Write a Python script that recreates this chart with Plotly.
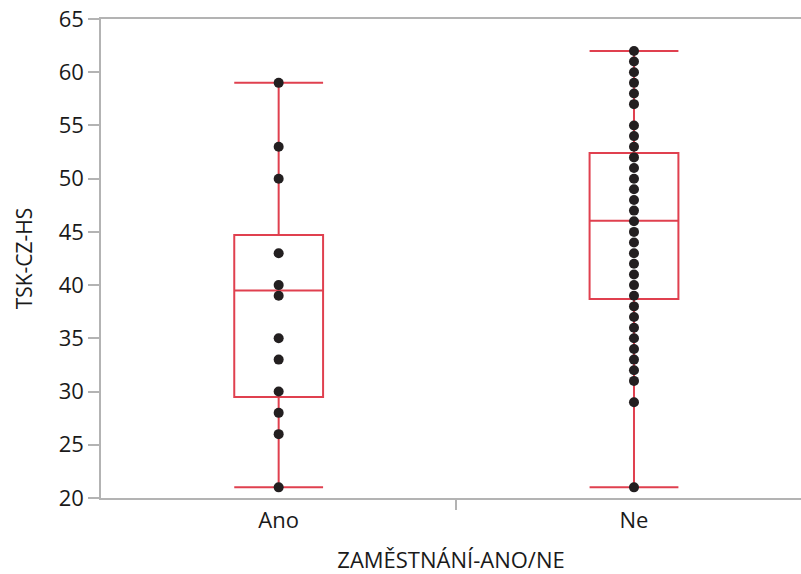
import plotly.graph_objects as go

categories = ["Ano", "Ne"]
positions = [0, 1]
q1 = [29.5, 38.7]
median = [39.5, 46.05]
q3 = [44.7, 52.4]
lower = [21, 21]
upper = [59, 62]
ano_points = [59, 53, 50, 43, 40, 39, 35, 33, 30, 28, 26, 21]
ne_points = [62, 61, 60, 59, 58, 57, 55, 54, 53, 52, 51, 50, 49, 48, 47, 46, 45,
             44, 43, 42, 41, 40, 39, 38, 37, 36, 35, 34, 33, 32, 31, 29, 21]
y_ticks = [20, 25, 30, 35, 40, 45, 50, 55, 60, 65]

RED = "#e0404f"
GRAY = "#b3b3b3"
DOT = "#231f20"
FONT = "Open Sans"
TXT = "#1a1a1a"

fig = go.Figure()
fig.add_trace(go.Box(
    x=positions, q1=q1, median=median, q3=q3,
    lowerfence=lower, upperfence=upper,
    width=0.25, whiskerwidth=1, boxpoints=False,
    fillcolor="rgba(0,0,0,0)", line=dict(color=RED, width=2),
    showlegend=False, hoverinfo="skip",
))
for pos, pts in zip(positions, [ano_points, ne_points]):
    fig.add_trace(go.Scatter(
        x=[pos] * len(pts), y=pts, mode="markers",
        marker=dict(color=DOT, size=10),
        showlegend=False,
    ))

fig.update_layout(
    width=801, height=574,
    margin=dict(l=101, r=0, t=19, b=76),
    plot_bgcolor="white", paper_bgcolor="white",
    font=dict(family=FONT, size=22, color=TXT),
    xaxis=dict(
        range=[-0.5, 1.47], tickvals=positions, ticktext=categories,
        tickfont=dict(size=22), ticklabelstandoff=2,
        ticks="", showgrid=False, zeroline=False,
        showline=True, linecolor=GRAY, linewidth=1.5, mirror=True,
        minor=dict(tickvals=[0.5], ticks="outside", ticklen=10, tickwidth=1.5, tickcolor=GRAY, showgrid=False),
        title=dict(text="ZAMĚSTNÁNÍ-ANO/NE", standoff=22, font=dict(size=22)),
    ),
    yaxis=dict(
        range=[20, 65], tickvals=y_ticks,
        tickfont=dict(size=22),
        ticks="outside", ticklen=11, tickwidth=1.5, tickcolor=GRAY,
        showgrid=False, zeroline=False,
        showline=True, linecolor=GRAY, linewidth=1.5,
        title=dict(text="TSK-CZ-HS", standoff=20, font=dict(size=21)),
    ),
)
fig.write_html("out.html")
